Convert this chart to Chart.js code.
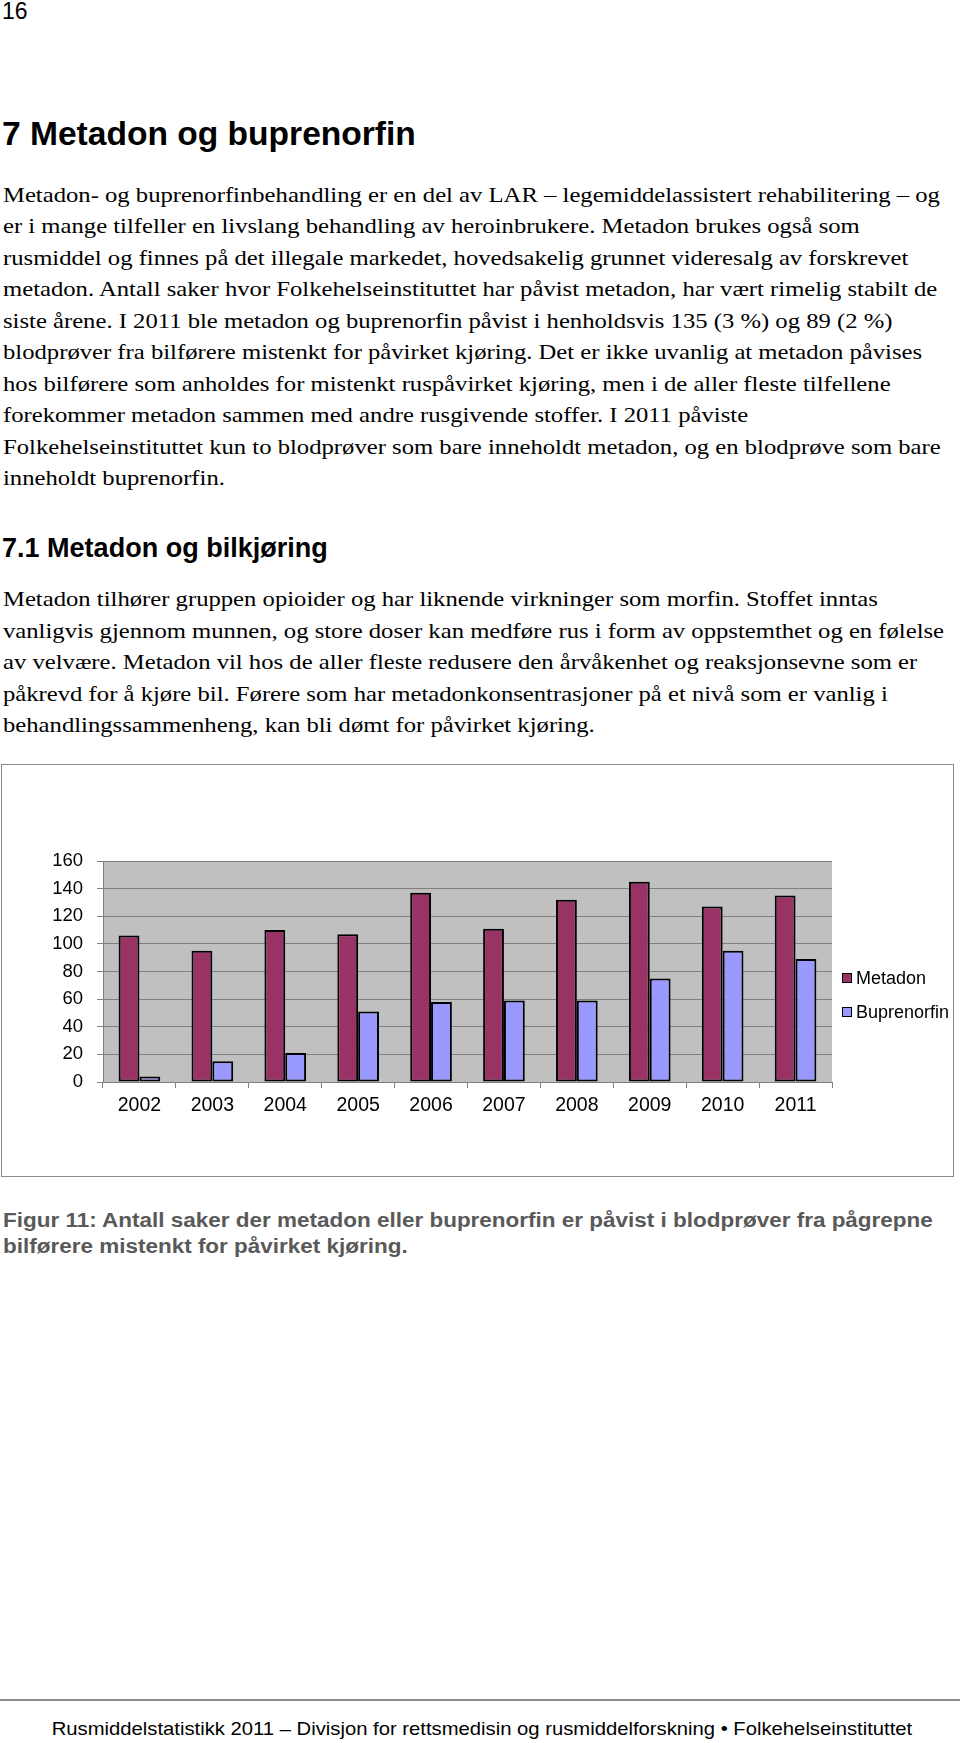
<!DOCTYPE html>
<html lang="no">
<head>
<meta charset="utf-8">
<script src="https://cdn.jsdelivr.net/npm/chart.js@4.4.1/dist/chart.umd.min.js"></script>
<style>
  html, body { margin:0; padding:0; background:#fff; }
  body { position:relative; width:960px; height:1743px; overflow:hidden; color:#000; }
  .abs { position:absolute; white-space:nowrap; transform-origin:0 0; }
  .serif { font-family:"Liberation Serif","Times New Roman",serif; font-size:22px; line-height:31.5px; transform:scaleX(1.121); }
  .sans { font-family:"Liberation Sans",Arial,sans-serif; }
  #pageno { left:2px; top:-2px; font-size:23px; line-height:26px; }
  #h1 { left:2px; top:112.5px; font-size:34px; line-height:40px; font-weight:bold; transform:scaleX(0.987); }
  #p1 { left:3px; top:178.5px; }
  #h2 { left:2px; top:531px; font-size:28px; line-height:34px; font-weight:bold; transform:scaleX(0.965); }
  #p2 { left:3px; top:583px; }
  #chartbox { position:absolute; left:1px; top:764px; width:953px; height:413px; box-sizing:border-box; border:1.5px solid #8a8a8a; }
  #chart { position:absolute; left:3px; top:766px; }
  #legend { position:absolute; left:842px; top:966px; font-family:"Liberation Sans",Arial,sans-serif; font-size:18px; }
  #legend .item { position:relative; height:33.5px; line-height:24px; white-space:nowrap; }
  #legend .sw { position:absolute; left:0; top:7px; width:10px; height:10px; box-sizing:border-box; border:1px solid #000; }
  #legend .lbl { position:absolute; left:14px; top:0; }
  #caption { left:3px; top:1208px; font-size:20px; line-height:25.7px; font-weight:bold; color:#595959; transform:scaleX(1.124); }
  #rule { position:absolute; left:0; top:1699px; width:960px; height:2px; background:#8a8a8a; }
  #footer { left:2px; width:960px; text-align:center; top:1718px; font-size:18.5px; line-height:22px; transform-origin:50% 0; transform:scaleX(1.094); }
</style>
</head>
<body>
<div id="pageno" class="abs sans">16</div>
<div id="h1" class="abs sans">7 Metadon og buprenorfin</div>
<div id="p1" class="abs serif">Metadon- og buprenorfinbehandling er en del av LAR – legemiddelassistert rehabilitering – og<br>er i mange tilfeller en livslang behandling av heroinbrukere. Metadon brukes også som<br>rusmiddel og finnes på det illegale markedet, hovedsakelig grunnet videresalg av forskrevet<br>metadon. Antall saker hvor Folkehelseinstituttet har påvist metadon, har vært rimelig stabilt de<br>siste årene. I 2011 ble metadon og buprenorfin påvist i henholdsvis 135 (3 %) og 89 (2 %)<br>blodprøver fra bilførere mistenkt for påvirket kjøring. Det er ikke uvanlig at metadon påvises<br>hos bilførere som anholdes for mistenkt ruspåvirket kjøring, men i de aller fleste tilfellene<br>forekommer metadon sammen med andre rusgivende stoffer. I 2011 påviste<br>Folkehelseinstituttet kun to blodprøver som bare inneholdt metadon, og en blodprøve som bare<br>inneholdt buprenorfin.</div>
<div id="h2" class="abs sans">7.1 Metadon og bilkjøring</div>
<div id="p2" class="abs serif">Metadon tilhører gruppen opioider og har liknende virkninger som morfin. Stoffet inntas<br>vanligvis gjennom munnen, og store doser kan medføre rus i form av oppstemthet og en følelse<br>av velvære. Metadon vil hos de aller fleste redusere den årvåkenhet og reaksjonsevne som er<br>påkrevd for å kjøre bil. Førere som har metadonkonsentrasjoner på et nivå som er vanlig i<br>behandlingssammenheng, kan bli dømt for påvirket kjøring.</div>

<div id="chartbox"></div>
<canvas id="chart" width="948" height="409"></canvas>
<div id="legend"></div>

<div id="caption" class="abs sans">Figur 11: Antall saker der metadon eller buprenorfin er påvist i blodprøver fra pågrepne<br>bilførere mistenkt for påvirket kjøring.</div>
<div id="rule"></div>
<div id="footer" class="abs sans">Rusmiddelstatistikk 2011 – Divisjon for rettsmedisin og rusmiddelforskning • Folkehelseinstituttet</div>

<script>
// ---- data ----
const years = ["2002","2003","2004","2005","2006","2007","2008","2009","2010","2011"];
const metadon = [106, 95, 110, 107, 137, 111, 132, 145, 127, 135];
const buprenorfin = [4, 15, 21, 51, 58, 59, 59, 75, 95, 89];
const seriesNames = ["Metadon", "Buprenorfin"];
const seriesColors = ["#993366", "#9999FF"];
const yTickValues = [0, 20, 40, 60, 80, 100, 120, 140, 160];

const plotBg = {
  id: 'plotBg',
  beforeDraw(chart) {
    const {ctx, chartArea} = chart;
    ctx.save();
    ctx.fillStyle = '#C0C0C0';
    ctx.fillRect(chartArea.left, chartArea.top, chartArea.width, chartArea.height);
    ctx.restore();
  }
};

Chart.defaults.font.family = '"Liberation Sans", Arial, sans-serif';
Chart.defaults.color = '#000';

const chart = new Chart(document.getElementById('chart'), {
  type: 'bar',
  data: {
    labels: years,
    datasets: [
      { label: seriesNames[0], data: metadon, backgroundColor: seriesColors[0] },
      { label: seriesNames[1], data: buprenorfin, backgroundColor: seriesColors[1] }
    ].map(d => Object.assign(d, { borderColor: '#000', borderWidth: 2, borderSkipped: false,
                                  categoryPercentage: 2/3.5, barPercentage: 1 }))
  },
  options: {
    responsive: false,
    animation: false,
    layout: { padding: { left: 0, right: 119, top: 95, bottom: 53 } },
    plugins: { legend: { display: false }, tooltip: { enabled: false } },
    scales: {
      x: {
        grid: { offset: true, drawOnChartArea: false, drawTicks: true, tickLength: 6, color: '#808080', lineWidth: 1 },
        border: { color: '#808080', width: 1 },
        ticks: { font: { size: 19.5 }, padding: 6, maxRotation: 0 },
        afterFit(scale) { scale.height = 40; }
      },
      y: {
        min: yTickValues[0],
        max: yTickValues[yTickValues.length - 1],
        afterBuildTicks(scale) { scale.ticks = yTickValues.map(v => ({ value: v })); },
        grid: { color: '#808080', lineWidth: 1, tickLength: 6, drawTicks: true },
        border: { color: '#808080', width: 1 },
        ticks: { font: { size: 18.5 }, padding: 14 },
        afterFit(scale) { scale.width = 100; }
      }
    }
  },
  plugins: [plotBg]
});

// HTML legend built from the datasets
const legend = document.getElementById('legend');
chart.data.datasets.forEach(ds => {
  const item = document.createElement('div');
  item.className = 'item';
  const sw = document.createElement('span');
  sw.className = 'sw';
  sw.style.background = ds.backgroundColor;
  const lbl = document.createElement('span');
  lbl.className = 'lbl';
  lbl.textContent = ds.label;
  item.appendChild(sw); item.appendChild(lbl);
  legend.appendChild(item);
});
</script>
</body>
</html>
